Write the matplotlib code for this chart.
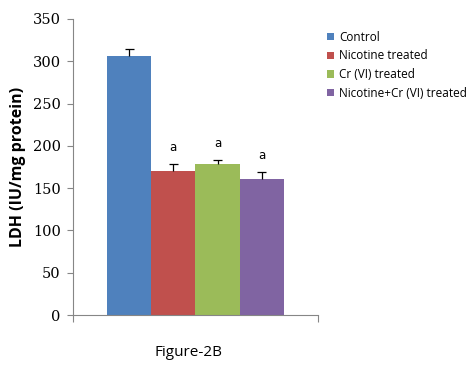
import matplotlib
matplotlib.use("Agg")
import matplotlib.pyplot as plt
from matplotlib.patches import Patch
import numpy as np

groups = ["Control", "Nicotine treated", "Cr (VI) treated", "Nicotine+Cr (VI) treated"]
ldh = np.array([306, 170, 178, 161])
ldh_err = np.array([8, 8, 5, 8])
sig = ["", "a", "a", "a"]
colors = ["#4F81BD", "#C0504D", "#9BBB59", "#8064A2"]

fig = plt.figure(figsize=(4.75, 3.72), dpi=100)
ax = fig.add_axes([0.154, 0.153, 0.515, 0.796])

w = 0.1806
offsets = (np.arange(len(groups)) - 1.5) * w
ax.bar(offsets, ldh, width=w, color=colors, zorder=2)

# upward-only error bars with a cap on top
cap = 0.018
ax.vlines(offsets, ldh, ldh + ldh_err, color="black", lw=0.9, zorder=3)
ax.hlines(ldh + ldh_err, offsets - cap, offsets + cap, color="black", lw=0.9, zorder=3)
for x, v, e, s in zip(offsets, ldh, ldh_err, sig):
    if s:
        ax.text(x, v + e + 12, s, ha="center", va="bottom", fontsize=8.5,
                family="DejaVu Sans")

ax.set_xlim(-0.5, 0.5)
ax.set_ylim(0, 350)
ax.set_yticks(np.arange(0, 351, 50))
ax.set_xticks([-0.5, 0.5])
ax.set_xticklabels(["", ""])
for sp in ["top", "right"]:
    ax.spines[sp].set_visible(False)
for sp in ["left", "bottom"]:
    ax.spines[sp].set_color("#868686")
    ax.spines[sp].set_linewidth(0.8)
ax.tick_params(axis="y", direction="out", length=4, color="#868686",
               labelsize=10.5, pad=5)
ax.tick_params(axis="x", direction="out", length=5, color="#868686")
for lbl in ax.get_yticklabels():
    lbl.set_family("DejaVu Serif")

ax.set_ylabel("LDH (IU/mg protein)", fontsize=11.5, fontweight="bold",
              family="Open Sans", labelpad=5)
fig.text(188 / 475, 1 - 353 / 372, "Figure-2B", fontsize=11,
         family="Open Sans", ha="center", va="center")

handles = [Patch(facecolor=c, edgecolor="none") for c in colors]
fig.legend(handles, groups, loc="upper left", bbox_to_anchor=(0.678, 0.93),
           frameon=False, handlelength=0.6, handleheight=0.6,
           handletextpad=0.45, labelspacing=0.48, borderaxespad=0,
           prop={"family": "Open Sans", "size": 8.5})

fig.savefig("out.png", dpi=100)
